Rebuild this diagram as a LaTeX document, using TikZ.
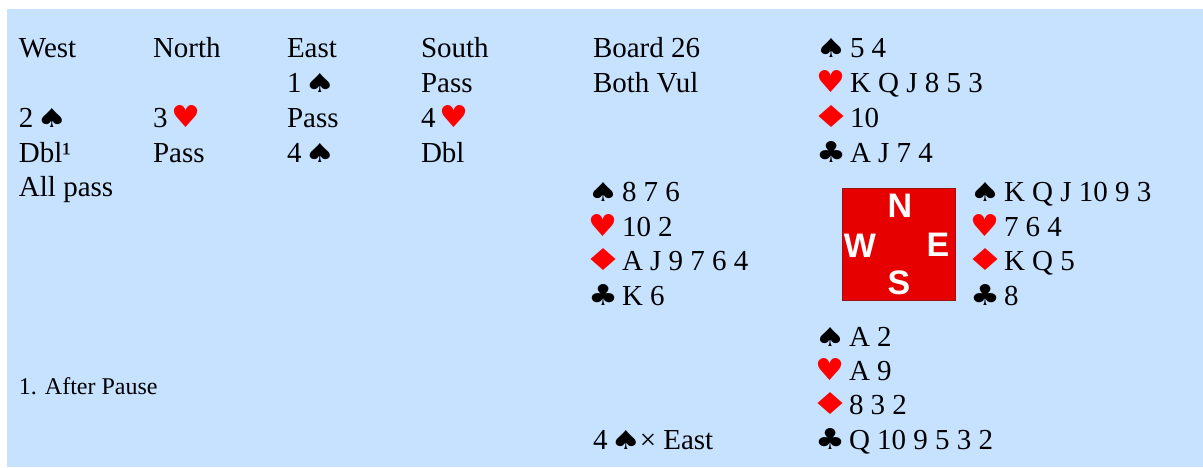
\documentclass[tikz,border=0pt]{standalone}
\usepackage{fontspec}
\setmainfont{Liberation Serif}
\newfontfamily\suitfont{DejaVu Sans}
\newfontfamily\compassfont{Liberation Sans}
\usepackage{xcolor}
\usepackage{graphicx}
\usepackage{tikz}

\definecolor{tablebg}{RGB}{198,226,255}
\definecolor{suitred}{RGB}{255,0,0}
\definecolor{boxred}{RGB}{230,0,0}
\definecolor{boxedge}{RGB}{150,20,20}

% glyph box width, height, char code, kern
\newcommand{\suitglyph}[4]{\makebox[23pt][l]{\hspace*{#4}\resizebox{#1}{#2}{\suitfont\char#3}}}
\newcommand{\suitS}{\suitglyph{31pt}{19pt}{"2660}{-4.5pt}}
\newcommand{\suitH}{{\color{suitred}\suitglyph{29pt}{22pt}{"2665}{-3.5pt}}}
\newcommand{\suitD}{{\color{suitred}\suitglyph{40pt}{22pt}{"2666}{-9pt}}}
\newcommand{\suitC}{\suitglyph{30pt}{21pt}{"2663}{-4pt}}
\newcommand{\handline}[2]{\makebox[30pt][l]{#1}#2}

\begin{document}
\begin{tikzpicture}[
  x=1pt, y=-1pt,
  every node/.style={inner sep=0pt, outer sep=0pt, anchor=base west, font=\fontsize{29}{35}\selectfont},
  note/.style={font=\fontsize{24}{28}\selectfont},
  compass/.style={draw=boxedge, line width=0.8pt, fill=boxred, minimum width=113pt, minimum height=112pt, anchor=center},
  seat/.style={anchor=center, text=white, font=\compassfont\bfseries\fontsize{34}{34}\selectfont},
]
\useasboundingbox (0,0) rectangle (1203,467);
\fill[tablebg] (7,9) rectangle (1203,467);
% auction
\node (hW) at (19,57) {West};
\node (hN) at (153,57) {North};
\node (hE) at (287,57) {East};
\node (hS) at (421,57) {South};
\node (b1) at (287,92) {1 \suitS};
\node (b2) at (421,92) {Pass};
\node (b3) at (19,127) {2 \suitS};
\node (b4) at (153,127) {3 \suitH};
\node (b5) at (287,127) {Pass};
\node (b6) at (421,127) {4 \suitH};
\node (b7) at (19,162) {Dbl¹};
\node (b8) at (153,162) {Pass};
\node (b9) at (287,162) {4 \suitS};
\node (b10) at (421,162) {Dbl};
\node (b11) at (19,196) {All pass};
\node[note] (fn) at (19,394) {1. After Pause};
% board info
\node (board) at (593,57) {Board 26};
\node (vul) at (593,92) {Both Vul};
\node (contract) at (593,449) {4 \suitS\hspace{2pt}\texttimes{} East};
% North
\node (nS) at (820,57) {\handline{\suitS}{5 4}};
\node (nH) at (820,92) {\handline{\suitH}{K Q J 8 5 3}};
\node (nD) at (820,127) {\handline{\suitD}{10}};
\node (nC) at (820,162) {\handline{\suitC}{A J 7 4}};
% West
\node (wS) at (592,201) {\handline{\suitS}{8 7 6}};
\node (wH) at (592,236) {\handline{\suitH}{10 2}};
\node (wD) at (592,270) {\handline{\suitD}{A J 9 7 6 4}};
\node (wC) at (592,305) {\handline{\suitC}{K 6}};
% East
\node (eS) at (974,201) {\handline{\suitS}{K Q J 10 9 3}};
\node (eH) at (974,236) {\handline{\suitH}{7 6 4}};
\node (eD) at (974,270) {\handline{\suitD}{K Q 5}};
\node (eC) at (974,305) {\handline{\suitC}{8}};
% South
\node (sS) at (819,346) {\handline{\suitS}{A 2}};
\node (sH) at (819,380) {\handline{\suitH}{A 9}};
\node (sD) at (819,414) {\handline{\suitD}{8 3 2}};
\node (sC) at (819,449) {\handline{\suitC}{Q 10 9 5 3 2}};
% compass
\node[compass] (box) at (898.5,244) {};
\node[seat] (cN) at (900,206) {N};
\node[seat] (cW) at (860,246) {W};
\node[seat] (cE) at (938,245) {E};
\node[seat] (cS) at (899,283) {S};
\end{tikzpicture}
\end{document}
